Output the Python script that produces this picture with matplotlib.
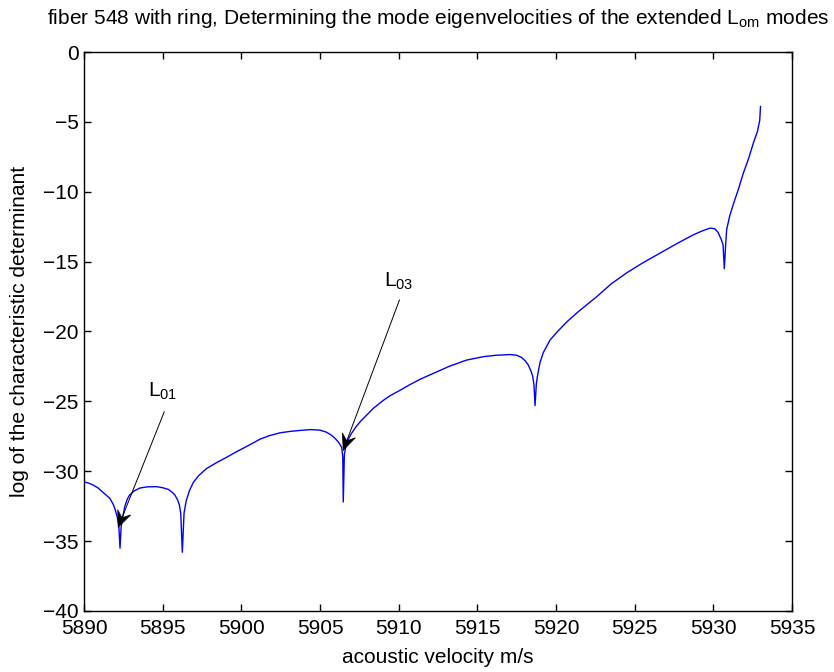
import numpy as np
import matplotlib
matplotlib.use("Agg")
from matplotlib import pyplot as plt
from matplotlib.patches import Polygon
from matplotlib.transforms import IdentityTransform

plt.rcParams['font.family'] = ['Liberation Sans Narrow', 'Liberation Sans', 'DejaVu Sans']
plt.rcParams['mathtext.default'] = 'regular'

# acoustic velocity (m/s) and log of the characteristic determinant
velocity = [5890.0, 5890.3, 5890.6, 5890.9, 5891.2, 5891.45, 5891.65, 5891.85,
            5891.97, 5892.12, 5892.22, 5892.29, 5892.36, 5892.46, 5892.6, 5892.75,
            5892.9, 5893.2, 5893.56, 5894.0, 5894.6, 5895.0, 5895.36, 5895.6,
            5895.78, 5895.95, 5896.06, 5896.15, 5896.25, 5896.36, 5896.5, 5896.7,
            5896.95, 5897.3, 5897.8, 5898.4, 5899.07, 5899.7, 5900.3, 5901.2,
            5901.8, 5902.46, 5903.1, 5903.73, 5904.4, 5905.0, 5905.4, 5905.7,
            5905.96, 5906.2, 5906.38, 5906.45, 5906.48, 5906.55, 5906.7, 5907.0,
            5907.3, 5907.6, 5908.0, 5908.39, 5909.0, 5909.45, 5910.1, 5910.72,
            5911.4, 5912.0, 5912.6, 5913.2, 5914.3, 5915.4, 5916.2, 5917.1,
            5917.5, 5917.8, 5918.05, 5918.24, 5918.4, 5918.52, 5918.6, 5918.67,
            5918.75, 5918.82, 5918.99, 5919.2, 5919.63, 5920.1, 5920.7, 5921.4,
            5922.0, 5922.6, 5923.5, 5924.5, 5925.5, 5926.6, 5927.7, 5928.7,
            5929.3, 5929.8, 5930.1, 5930.3, 5930.5, 5930.62, 5930.7, 5930.79,
            5930.85, 5931.05, 5931.3, 5931.6, 5931.9, 5932.25, 5932.55, 5932.8,
            5932.95, 5933.0]
log_det = [-30.76, -30.85, -31.0, -31.2, -31.5, -31.75, -31.95, -32.35,
           -32.7, -33.3, -34.0, -35.5, -34.0, -33.3, -32.5, -32.0,
           -31.7, -31.4, -31.2, -31.12, -31.1, -31.18, -31.3, -31.5,
           -31.7, -32.05, -32.4, -33.0, -35.8, -33.0, -32.1, -31.4,
           -30.8, -30.3, -29.8, -29.4, -29.0, -28.6, -28.25, -27.7,
           -27.45, -27.25, -27.15, -27.08, -27.02, -27.06, -27.2, -27.4,
           -27.65, -27.95, -28.3, -29.0, -32.2, -28.8, -27.9, -27.3,
           -26.8, -26.4, -25.95, -25.5, -24.95, -24.6, -24.2, -23.8,
           -23.4, -23.1, -22.8, -22.5, -22.05, -21.8, -21.7, -21.65,
           -21.7, -21.85, -22.1, -22.4, -22.8, -23.2, -23.8, -25.3,
           -23.8, -23.2, -22.2, -21.5, -20.6, -20.0, -19.3, -18.6,
           -18.05, -17.5, -16.6, -15.8, -15.1, -14.4, -13.7, -13.1,
           -12.8, -12.6, -12.65, -12.9, -13.4, -13.8, -15.5, -13.7,
           -12.7, -11.7, -10.8, -9.8, -8.7, -7.6, -6.5, -5.7,
           -4.9, -3.9]

# mode labels: text position, arrow tail, arrow tip
modes = ['$L_{01}$', '$L_{03}$']
label_xy = [(5894.05, -24.3), (5909.05, -16.4)]
tail_xy = [(5895.1, -25.75), (5910.05, -17.75)]
tip_xy = [(5892.18, -34.0), (5906.48, -28.5)]

fig = plt.figure(figsize=(8.34, 6.72), dpi=100)
ax = fig.add_axes([0.1007, 0.0908, 0.8489, 0.8318])

ax.plot(velocity, log_det, color='#0000ff', lw=1.0)

ax.set_xlim(5890, 5935)
ax.set_ylim(-40, 0)
ax.set_xticks(range(5890, 5936, 5))
ax.set_yticks(range(-40, 1, 5))


def arrow_head(tail, tip, length=16, half_width=7, notch=6):
    # swept-back arrow head built in pixel space
    t0 = ax.transData.transform(tail)
    t1 = ax.transData.transform(tip)
    d = (t1 - t0) / np.hypot(*(t1 - t0))
    n = np.array([-d[1], d[0]])
    back = t1 - d * length
    pts = [t1, back + n * half_width, t1 - d * (length - notch), back - n * half_width]
    ax.add_patch(Polygon(pts, closed=True, transform=IdentityTransform(),
                         facecolor='black', edgecolor='black', lw=0.5, zorder=4))


for name, lxy, txy, pxy in zip(modes, label_xy, tail_xy, tip_xy):
    ax.text(lxy[0], lxy[1], name, fontsize=15, ha='left', va='center')
    ax.plot([txy[0], pxy[0]], [txy[1], pxy[1]], color='black', lw=0.7)
    arrow_head(txy, pxy)

ax.tick_params(direction='in', top=True, right=True, length=5, width=1,
               labelsize=15)
ax.tick_params(axis='x', pad=6)
ax.tick_params(axis='y', pad=4)
for s in ax.spines.values():
    s.set_linewidth(1.0)

ax.set_title('fiber 548 with ring, Determining the mode eigenvelocities of the extended $L_{om}$ modes',
             fontsize=15, pad=20)
ax.set_xlabel('acoustic velocity m/s', fontsize=15, labelpad=7)
ax.set_ylabel('log of the characteristic determinant', fontsize=15, labelpad=10)

fig.savefig('out.png', dpi=100)
